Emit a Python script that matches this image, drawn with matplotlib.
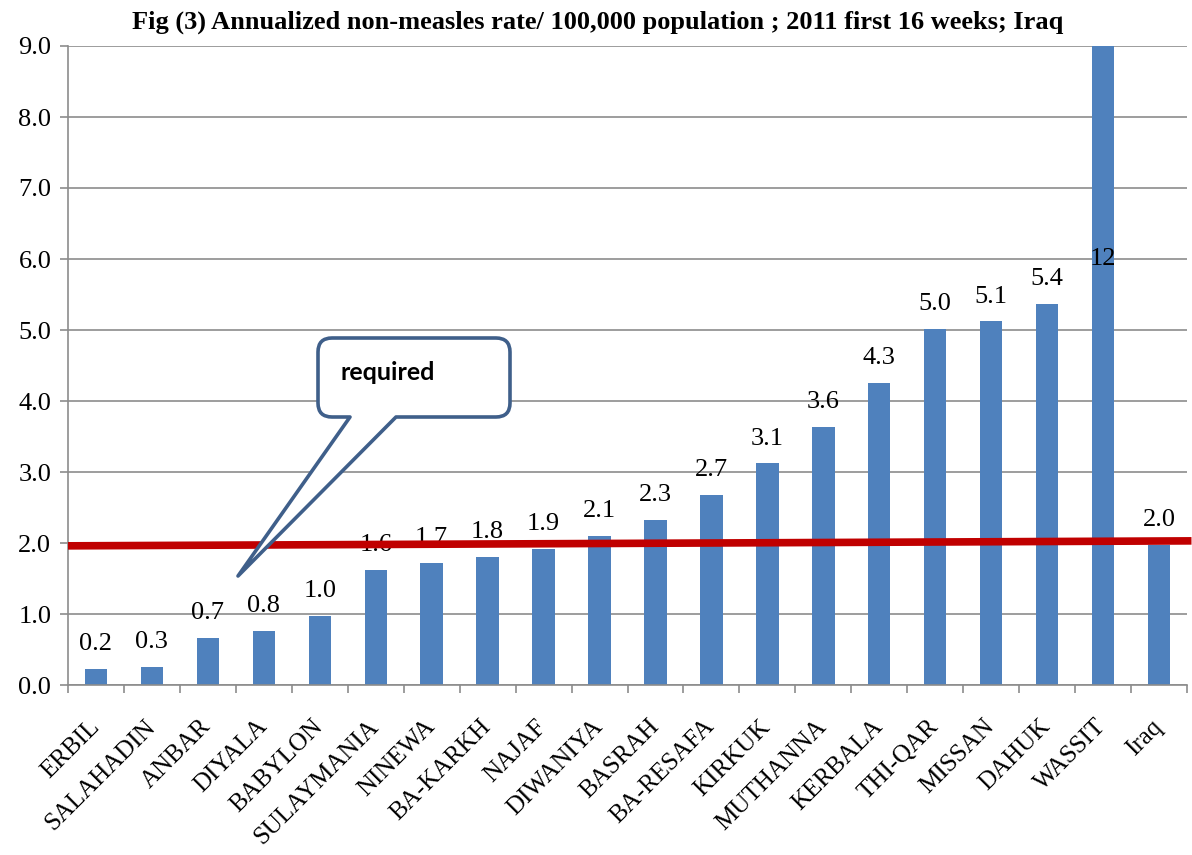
import matplotlib
matplotlib.use("Agg")
import matplotlib.pyplot as plt
from matplotlib.path import Path
from matplotlib.patches import PathPatch
from matplotlib.transforms import ScaledTranslation
import numpy as np

categories = ["ERBIL", "SALAHADIN", "ANBAR", "DIYALA", "BABYLON", "SULAYMANIA",
              "NINEWA", "BA-KARKH", "NAJAF", "DIWANIYA", "BASRAH", "BA-RESAFA",
              "KIRKUK", "MUTHANNA", "KERBALA", "THI-QAR", "MISSAN", "DAHUK",
              "WASSIT", "Iraq"]
values = [0.22, 0.26, 0.66, 0.76, 0.97, 1.62, 1.72, 1.80, 1.92, 2.10, 2.33, 2.68,
          3.12, 3.63, 4.25, 5.01, 5.12, 5.37, 12.0, 1.97]
labels = ["0.2", "0.3", "0.7", "0.8", "1.0", "1.6", "1.7", "1.8", "1.9", "2.1",
          "2.3", "2.7", "3.1", "3.6", "4.3", "5.0", "5.1", "5.4", "12", "2.0"]
required_line = [1.96, 2.03]
title = "Fig (3) Annualized non-measles rate/ 100,000 population ; 2011 first 16 weeks; Iraq"

W, H = 1192, 855
fig = plt.figure(figsize=(W / 100, H / 100), dpi=100)
plt.rcParams['font.family'] = ['Liberation Serif', 'DejaVu Serif']
ax = fig.add_axes([68 / W, 1 - 685 / H, (1187 - 68) / W, (685 - 46) / H])

FS = 19
x = np.arange(len(categories))
ymax = 9.0
ax.bar(x, values, width=0.4, color="#4F81BD", zorder=2)
ax.set_xlim(-0.5, len(categories) - 0.5)
ax.set_ylim(0, ymax)

for xi, v, lab in zip(x, values, labels):
    if v > ymax:
        ax.text(xi, 6.0, lab, ha="center", va="center", fontsize=FS, zorder=3)
    else:
        ax.annotate(lab, (xi, v), xytext=(0, 10), textcoords="offset points",
                    ha="center", va="bottom", fontsize=FS, zorder=3)

ax.set_yticks(np.arange(0, 9.01, 1.0))
ax.set_yticklabels([f"{t:.1f}" for t in np.arange(0, 9.01, 1.0)], fontsize=FS)
ax.yaxis.grid(True, color="#8C8C8C", linewidth=1.2, zorder=0)
ax.set_axisbelow(True)

ax.set_xticks(np.arange(-0.5, len(categories), 1.0))
ax.set_xticklabels([])
ax.set_xticks(x, minor=True)
ax.set_xticklabels(categories, minor=True, rotation=45, ha="right",
                   rotation_mode="anchor", fontsize=18)
ax.tick_params(axis="x", which="minor", length=0, pad=22)
ax.tick_params(axis="x", which="major", length=6, color="#8C8C8C", width=1.2)
ax.tick_params(axis="y", length=6, color="#8C8C8C", width=1.2, pad=6)
shift = ScaledTranslation(-8 / 100, 0, fig.dpi_scale_trans)
for lbl in ax.get_xticklabels(minor=True):
    lbl.set_transform(lbl.get_transform() + shift)

for s in ["top", "right"]:
    ax.spines[s].set_visible(False)
for s in ["left", "bottom"]:
    ax.spines[s].set_color("#8C8C8C")
    ax.spines[s].set_linewidth(1.2)

# red "required" line
ax.plot([-0.5, len(categories) - 0.42], required_line, color="#C00000",
        linewidth=5.5, solid_capstyle="butt", zorder=4, clip_on=False)

fig.text(598 / W, 1 - 22 / H, title, ha="center", va="center",
         fontsize=FS, fontweight="bold")

# callout (pixel coords -> figure fraction)
x0, y0, x1, y1, r = 318, 338, 510, 417, 14
tb1, tb2, tip = 350, 396, (238, 576)
pts = [(x0 + r, y0), (x1 - r, y0), (x1, y0), (x1, y0 + r), (x1, y1 - r),
       (x1, y1), (x1 - r, y1), (tb2, y1), tip, (tb1, y1), (x0 + r, y1),
       (x0, y1), (x0, y1 - r), (x0, y0 + r), (x0, y0), (x0 + r, y0), (0, 0)]
codes = [Path.MOVETO, Path.LINETO, Path.CURVE3, Path.CURVE3, Path.LINETO,
         Path.CURVE3, Path.CURVE3, Path.LINETO, Path.LINETO, Path.LINETO,
         Path.LINETO, Path.CURVE3, Path.CURVE3, Path.LINETO, Path.CURVE3,
         Path.CURVE3, Path.CLOSEPOLY]
fpts = [(px / W, 1 - py / H) for px, py in pts]
patch = PathPatch(Path(fpts, codes), facecolor="white", edgecolor="#3F5F8A",
                  linewidth=2.6, transform=fig.transFigure, zorder=10,
                  joinstyle="round")
fig.add_artist(patch)
fig.text(340 / W, 1 - 372 / H, "required", ha="left", va="center",
         fontsize=18, fontweight="bold", family=["Lato", "DejaVu Sans"],
         zorder=11)

fig.savefig("out.png", dpi=100)
